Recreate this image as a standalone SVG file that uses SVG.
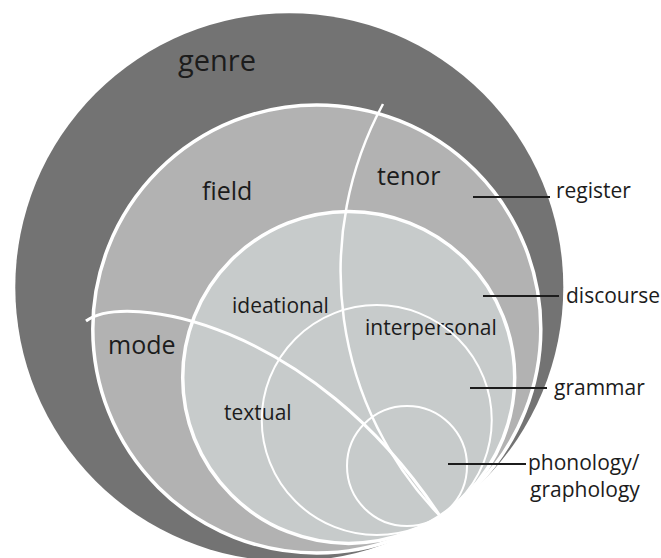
<svg xmlns="http://www.w3.org/2000/svg" width="661" height="558" viewBox="0 0 661 558">
  <style>
    .lbl { font-family: "Open Sans", "Liberation Sans", sans-serif; fill: #1c1c1c; }
    .big { font-size: 25px; }
    .small { font-size: 21px; }
    .thick { fill: none; stroke: #ffffff; stroke-width: 3.5; }
    .thin { fill: none; stroke: #ffffff; stroke-width: 2; }
    .lead { stroke: #1c1c1c; stroke-width: 1.8; }
  </style>
  <rect width="661" height="558" fill="#ffffff"/>

  <!-- all circles share one internal tangent point at (440,516) -->
  <g id="genre">
    <circle cx="289.3" cy="287.2" r="274" fill="#737373"/>
    <text class="lbl" x="178" y="71" style="font-size:29px">genre</text>
  </g>

  <g id="register">
    <circle cx="316.8" cy="329" r="224" fill="#b2b2b2" class="thick" style="fill:#b2b2b2"/>
    <text class="lbl big" x="202" y="200">field</text>
    <text class="lbl big" x="377" y="185">tenor</text>
    <text class="lbl big" x="108" y="354">mode</text>
  </g>

  <g id="discourse">
    <circle cx="348.7" cy="377.4" r="166" class="thick" style="fill:#c7cbcb"/>
    <text class="lbl small" x="232" y="313">ideational</text>
    <text class="lbl small" x="365" y="335">interpersonal</text>
    <text class="lbl small" x="224" y="420">textual</text>
  </g>

  <g id="grammar">
    <circle cx="376.75" cy="420" r="115" class="thin"/>
  </g>

  <g id="phonology">
    <circle cx="407" cy="466" r="60" class="thin"/>
  </g>

  <!-- metafunction boundaries: field/tenor and field/mode -->
  <g id="dividers">
    <path d="M 383 104 A 351 351 0 0 0 440 516" fill="none" stroke="#ffffff" stroke-width="2.5"/>
    <path d="M 86 321 C 125 292, 310 320, 440 516" fill="none" stroke="#ffffff" stroke-width="3"/>
  </g>

  <g id="connectors">
    <line class="lead" x1="473" y1="197" x2="550" y2="197"/>
    <line class="lead" x1="483" y1="296" x2="559" y2="296"/>
    <line class="lead" x1="470" y1="388" x2="547" y2="388"/>
    <line class="lead" x1="448" y1="464" x2="526" y2="464"/>
  </g>

  <g id="labels">
    <text class="lbl small" x="556" y="198">register</text>
    <text class="lbl small" x="566" y="303">discourse</text>
    <text class="lbl small" x="554" y="395">grammar</text>
    <text class="lbl small" x="528" y="470">phonology/</text>
    <text class="lbl small" x="530" y="497">graphology</text>
  </g>
</svg>
